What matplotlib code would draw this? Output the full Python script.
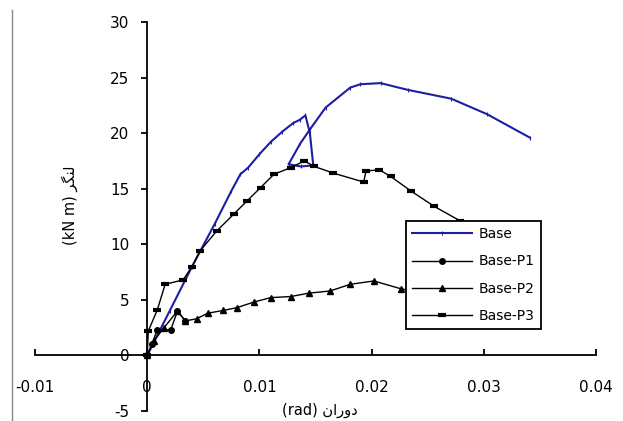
import matplotlib
matplotlib.use("Agg")
import matplotlib.pyplot as plt
from matplotlib.lines import Line2D

# ---- data ----
base_x = [0, 0.002, 0.004, 0.006, 0.0075, 0.0083, 0.009, 0.010, 0.011, 0.012, 0.013,
          0.0136, 0.0141, 0.0145, 0.0148, 0.0137, 0.0126, 0.01366, 0.01455, 0.0159,
          0.0181, 0.019, 0.0208, 0.0232, 0.0271, 0.0303, 0.0341]
base_y = [0, 4.0, 8.0, 11.8, 14.8, 16.3, 16.9, 18.1, 19.2, 20.1, 20.9,
          21.2, 21.6, 20.0, 17.1, 17.0, 17.2, 19.1, 20.4, 22.3,
          24.1, 24.4, 24.5, 23.9, 23.1, 21.7, 19.6]

p1_x = [0, 0.0004, 0.0009, 0.0021, 0.0027, 0.0034]
p1_y = [0, 1.0, 2.3, 2.3, 4.0, 3.1]

p2_x = [0, 0.0006, 0.0015, 0.0027, 0.0034, 0.0044, 0.0054, 0.0068, 0.008, 0.0095,
        0.011, 0.0128, 0.0144, 0.0163, 0.0181, 0.0202, 0.0226, 0.025]
p2_y = [0, 1.3, 2.5, 4.0, 3.1, 3.3, 3.8, 4.05, 4.3, 4.8,
        5.2, 5.3, 5.6, 5.8, 6.4, 6.7, 6.0, 5.5]

p3_x = [0, 0.0001, 0.0009, 0.0016, 0.0032, 0.004, 0.0047, 0.0062, 0.0077, 0.0089,
        0.0101, 0.0113, 0.0128, 0.014, 0.0149, 0.0166, 0.0193, 0.0195, 0.0207,
        0.0217, 0.0235, 0.0256, 0.0279, 0.031]
p3_y = [0, 2.2, 4.1, 6.4, 6.8, 8.0, 9.4, 11.2, 12.7, 13.9,
        15.1, 16.3, 16.9, 17.5, 17.0, 16.4, 15.6, 16.6, 16.7,
        16.1, 14.8, 13.4, 12.1, 10.8]

series_names = ["Base", "Base-P1", "Base-P2", "Base-P3"]
x_ticks = [-0.01, 0, 0.01, 0.02, 0.03, 0.04]
x_tick_labels = ["-0.01", "0", "0.01", "0.02", "0.03", "0.04"]
y_ticks = [-5, 0, 5, 10, 15, 20, 25, 30]

# Persian labels (visual order, presentation forms)
x_label = "(rad) " + "\u0646\u0627\u0631\u0648\u062f"          # دوران (rad)
y_label = "(kN m) " + "\uFEAE\uFB95\uFEE8\uFEDF"                  # لنگر (kN m)

plt.rcParams['font.family'] = ['DejaVu Sans']
plt.rcParams['axes.unicode_minus'] = False

fig = plt.figure(figsize=(6.23, 4.21), dpi=100)
ax = fig.add_axes([35/623, 10/421, 561/623, 389/421])

blue = "#1e1ea0"
ax.plot(base_x, base_y, color=blue, lw=1.5, marker='|', ms=3, mew=0.8,
        label=series_names[0], zorder=3)
ax.plot(p1_x, p1_y, color='black', lw=1.0, marker='o', ms=4,
        label=series_names[1], zorder=4)
ax.plot(p2_x, p2_y, color='black', lw=1.0, marker='^', ms=5,
        label=series_names[2], zorder=4)
ax.plot(p3_x, p3_y, color='black', lw=1.0, marker='_', ms=6, mew=3,
        label=series_names[3], zorder=4)

ax.set_xlim(-0.01, 0.04)
ax.set_ylim(-5, 30)

for s in ['top', 'right']:
    ax.spines[s].set_visible(False)
ax.spines['left'].set_position(('data', 0))
ax.spines['bottom'].set_position(('data', 0))
ax.spines['left'].set_linewidth(1.3)
ax.spines['bottom'].set_linewidth(1.3)

ax.set_xticks(x_ticks)
ax.set_xticklabels(x_tick_labels)
ax.set_yticks(y_ticks)
ax.tick_params(axis='x', direction='in', length=4, width=1.3, pad=18, labelsize=11)
ax.tick_params(axis='y', direction='out', length=4, width=1.3, pad=9, labelsize=11)

fig.text(320/623, 1 - 410/421, x_label, ha='center', va='center', fontsize=10.5)
fig.text(70/623, 1 - 205/421, y_label, ha='center', va='center', rotation=90, fontsize=10.5)

# chart-area left border line
fig.add_artist(Line2D([12/623, 12/623], [0, 1 - 10/421], color='#888888', lw=1.0))

leg = ax.legend(loc='upper left', bbox_to_anchor=((406-35)/561, (411-221)/389),
                borderaxespad=0, fancybox=False, framealpha=1, edgecolor='black',
                fontsize=10, handlelength=4.3, labelspacing=0.95, handletextpad=0.5,
                borderpad=0.45)
leg.get_frame().set_linewidth(1.3)

fig.savefig("out.png", dpi=100)
